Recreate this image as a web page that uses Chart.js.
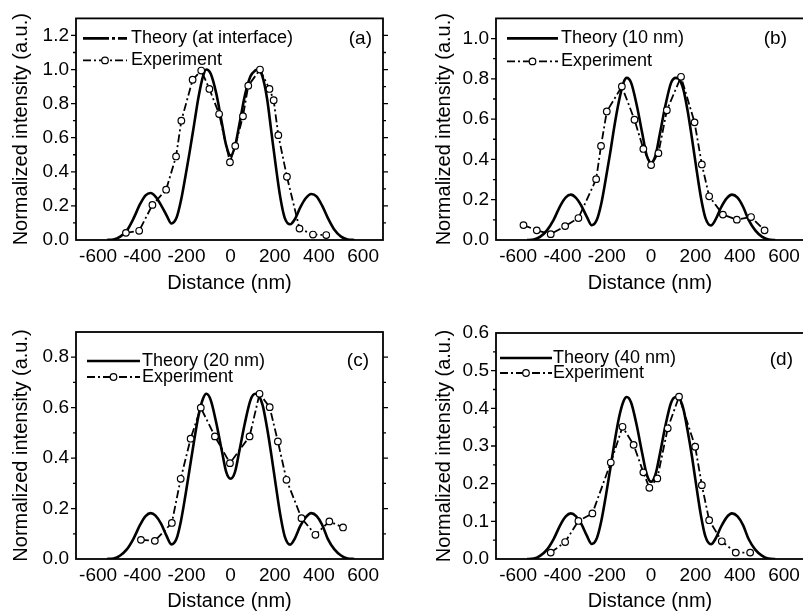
<!DOCTYPE html>
<html><head><meta charset="utf-8">
<script src="https://cdn.jsdelivr.net/npm/chart.js@4/dist/chart.umd.min.js"></script>
<style>
html,body{margin:0;padding:0;background:#fff;overflow:hidden;width:803px;height:616px;position:relative;}
canvas{position:absolute;}
</style></head><body>
<canvas id="ca" width="400" height="300" style="left:0px;top:0px"></canvas>
<canvas id="cb" width="410" height="300" style="left:400px;top:0px"></canvas>
<canvas id="cc" width="400" height="316" style="left:0px;top:300px"></canvas>
<canvas id="cd" width="410" height="316" style="left:400px;top:300px"></canvas>
<script>
// ---- data ----
const xTickLabels = [-600,-400,-200,0,200,400,600];
const theoryX = [-560,-530,-500,-470,-440,-410,-385,-362,-340,-315,-290,-268,-245,-225,-205,-185,-165,-145,-125,-110,-90,-65,-40,-20,0,20,40,65,90,112,125,145,165,185,205,225,245,270,290,315,340,365,390,415,440,470,500,530,560];
const theoryA = [0,0.003,0.02,0.055,0.125,0.21,0.262,0.276,0.255,0.205,0.145,0.097,0.13,0.23,0.37,0.52,0.68,0.84,0.96,1.0,0.975,0.86,0.69,0.555,0.495,0.55,0.68,0.85,0.96,0.995,1.0,0.955,0.83,0.63,0.43,0.25,0.13,0.092,0.12,0.19,0.245,0.27,0.255,0.2,0.13,0.06,0.02,0.003,0];
const theoryB = [0,0.002,0.017,0.048,0.10,0.17,0.212,0.225,0.21,0.17,0.115,0.073,0.1,0.18,0.3,0.43,0.57,0.69,0.78,0.805,0.78,0.67,0.53,0.42,0.385,0.42,0.53,0.67,0.78,0.805,0.8,0.75,0.64,0.5,0.35,0.21,0.11,0.072,0.1,0.16,0.205,0.225,0.21,0.165,0.1,0.048,0.017,0.002,0];
const theoryC = [0,0.002,0.014,0.038,0.08,0.135,0.17,0.182,0.172,0.14,0.092,0.058,0.08,0.15,0.25,0.36,0.47,0.57,0.635,0.655,0.63,0.54,0.43,0.345,0.318,0.345,0.43,0.54,0.63,0.655,0.65,0.61,0.52,0.41,0.29,0.175,0.09,0.057,0.08,0.13,0.165,0.182,0.17,0.135,0.08,0.038,0.014,0.002,0];
const theoryD = [0,0.001,0.009,0.025,0.053,0.09,0.113,0.121,0.114,0.093,0.062,0.04,0.055,0.1,0.165,0.237,0.31,0.375,0.418,0.43,0.415,0.355,0.28,0.225,0.205,0.225,0.28,0.355,0.415,0.43,0.428,0.4,0.34,0.27,0.19,0.115,0.06,0.039,0.053,0.085,0.11,0.121,0.113,0.09,0.053,0.025,0.009,0.001,0];

const expAx = [-474,-414,-354,-292,-247,-223,-172,-133,-96,-52,-3,21,56,80,133,176,195,216,255,312,373,433];
const expAy = [0.042,0.054,0.206,0.295,0.49,0.70,0.94,0.994,0.886,0.739,0.456,0.552,0.726,0.905,1.0,0.886,0.82,0.615,0.371,0.067,0.032,0.029];
const expBx = [-576,-516,-453,-388,-328,-248,-226,-200,-132,-75,-35,0,33,71,135,196,229,262,324,387,451,512];
const expBy = [0.074,0.048,0.029,0.069,0.109,0.302,0.467,0.638,0.762,0.597,0.452,0.372,0.431,0.644,0.81,0.584,0.375,0.217,0.126,0.101,0.114,0.048];
const expCx = [-406,-343,-266,-226,-181,-135,-71,-3,86,131,177,214,253,321,384,447,509];
const expCy = [0.076,0.072,0.143,0.318,0.477,0.60,0.486,0.38,0.486,0.655,0.602,0.466,0.314,0.162,0.096,0.149,0.125];
const expDx = [-453,-388,-328,-265,-182,-129,-79,-35,-8,28,75,126,199,229,262,319,382,447];
const expDy = [0.017,0.045,0.101,0.121,0.256,0.351,0.303,0.230,0.189,0.214,0.347,0.431,0.298,0.196,0.103,0.047,0.017,0.017];

const yTicksA = [0,0.2,0.4,0.6,0.8,1.0,1.2];
const yTicksB = [0,0.2,0.4,0.6,0.8,1.0];
const yTicksC = [0,0.2,0.4,0.6,0.8];
const yTicksD = [0,0.1,0.2,0.3,0.4,0.5,0.6];

const seriesNames = ['Theory (at interface)','Theory (10 nm)','Theory (20 nm)','Theory (40 nm)'];
const expName = 'Experiment';
const panelTags = ['(a)','(b)','(c)','(d)'];

// ---- rendering ----
const FONT = '"Liberation Sans", Arial, Helvetica, sans-serif';
Chart.defaults.color = '#000';
Chart.defaults.font.family = FONT;

const near = (v, list) => list.some(m => Math.abs(m - v) < 1e-6);
const isMult = (v, s) => Math.abs(v / s - Math.round(v / s)) < 1e-6;
const fmtX = v => String(v);

const framePlugin = {
  id: 'frame',
  afterDatasetsDraw(chart, args, o) {
    const {ctx, chartArea: a, scales: {x, y}} = chart;
    ctx.save();
    ctx.strokeStyle = '#000';
    ctx.lineWidth = 1.3;
    ctx.beginPath();
    x.ticks.forEach(t => {
      const v = t.value;
      if (!isMult(v, o.xMinor)) return;
      const px = x.getPixelForValue(v);
      if (px < a.left + 2 || px > a.right - 2) return;
      const L = isMult(v, o.xMajor) ? 5 : 3;
      ctx.moveTo(px, a.bottom); ctx.lineTo(px, a.bottom + L);
      ctx.moveTo(px, a.top); ctx.lineTo(px, a.top - L);
    });
    y.ticks.forEach(t => {
      const v = t.value;
      if (!isMult(v, o.yMinor)) return;
      const py = y.getPixelForValue(v);
      if (py < a.top + 2 || py > a.bottom - 2) return;
      const L = isMult(v, o.yMajor) ? 5 : 3;
      ctx.moveTo(a.left, py); ctx.lineTo(a.left - L, py);
      ctx.moveTo(a.right, py); ctx.lineTo(a.right + L, py);
    });
    ctx.stroke();
    ctx.lineWidth = 1.8;
    ctx.strokeRect(a.left, a.top, a.right - a.left, a.bottom - a.top);

    // x tick labels
    ctx.fillStyle = '#000';
    ctx.font = '19px ' + FONT;
    ctx.textAlign = 'center';
    ctx.textBaseline = 'middle';
    xTickLabels.forEach(v => {
      ctx.fillText(fmtX(v), x.getPixelForValue(v), a.bottom + o.xLabelOffset);
    });

    // legend
    const lg = o.legend;
    ctx.font = lg.size + 'px ' + FONT;
    ctx.textBaseline = 'middle';
    ctx.textAlign = 'left';
    chart.data.datasets.forEach((ds, i) => {
      const yy = a.top + lg.rows[i];
      const x0 = a.left + lg.x0, x1 = a.left + lg.x1;
      ctx.save();
      ctx.lineWidth = ds.borderWidth;
      ctx.setLineDash(ds.legendDash || ds.borderDash || []);
      ctx.beginPath(); ctx.moveTo(x0, yy); ctx.lineTo(x1, yy); ctx.stroke();
      ctx.setLineDash([]);
      if (ds.pointRadius > 0) {
        ctx.beginPath();
        ctx.arc((x0 + x1) / 2, yy, ds.pointRadius, 0, Math.PI * 2);
        ctx.fillStyle = ds.pointBackgroundColor; ctx.fill();
        ctx.lineWidth = ds.pointBorderWidth; ctx.stroke();
      }
      ctx.restore();
      ctx.fillStyle = '#000';
      ctx.fillText(ds.label, a.left + lg.tx, yy);
    });
    // panel tag
    ctx.textAlign = 'right';
    ctx.font = '19px ' + FONT;
    ctx.fillText(o.tag, a.right - o.tagPos[0], a.top + o.tagPos[1]);
    ctx.restore();
  }
};

const panels = [
  {id:'ca', theory:theoryA, ex:expAx, ey:expAy, name:seriesNames[0], tag:panelTags[0], yMax:1.3, yTicks:yTicksA, yMajor:0.2, yMinor:0.1,
   legendDash:[26,3,3,3], area:{left:76, top:13, right:383, bottom:240}, w:400, h:300, yTitlePad:9, xTitlePad:5,
   legend:{rows:[20,42], x0:7, x1:51, tx:55, size:18}, tagPos:[11,20]},
  {id:'cb', theory:theoryB, ex:expBx, ey:expBy, name:seriesNames[1], tag:panelTags[1], yMax:1.1, yTicks:yTicksB, yMajor:0.2, yMinor:0.1,
   legendDash:null, area:{left:96, top:12, right:404, bottom:240}, w:410, h:300, yTitlePad:32, xTitlePad:5,
   legend:{rows:[20,43], x0:11, x1:62, tx:65, size:18}, tagPos:[17,20]},
  {id:'cc', theory:theoryC, ex:expCx, ey:expCy, name:seriesNames[2], tag:panelTags[2], yMax:0.9, yTicks:yTicksC, yMajor:0.2, yMinor:0.1,
   legendDash:null, area:{left:76, top:32, right:383, bottom:259}, w:400, h:316, yTitlePad:9, xTitlePad:2.5,
   legend:{rows:[29,45], x0:11, x1:64, tx:66, size:18}, tagPos:[14,29]},
  {id:'cd', theory:theoryD, ex:expDx, ey:expDy, name:seriesNames[3], tag:panelTags[3], yMax:0.6, yTicks:yTicksD, yMajor:0.1, yMinor:0.05,
   legendDash:null, area:{left:96, top:33, right:404, bottom:259}, w:410, h:316, yTitlePad:32, xTitlePad:2.5,
   legend:{rows:[25,40], x0:4, x1:56, tx:57, size:18}, tagPos:[11,27]}
];

panels.forEach(p => {
  const ctx = document.getElementById(p.id);
  new Chart(ctx, {
    type: 'line',
    data: {
      datasets: [
        {label: p.name, data: theoryX.map((x, i) => ({x, y: p.theory[i]})),
         borderColor:'#000', borderWidth:2.6, pointRadius:0, cubicInterpolationMode:'monotone',
         fill:false, legendDash: p.legendDash, order:2},
        {label: expName, data: p.ex.map((x, i) => ({x, y: p.ey[i]})),
         borderColor:'#000', borderWidth:1.8, borderDash:[8,3,2,3], tension:0,
         pointRadius:3.3, pointHoverRadius:3.3, pointBackgroundColor:'#fff', pointBorderColor:'#000', pointBorderWidth:1.2,
         fill:false, order:1}
      ]
    },
    options: {
      responsive:false, animation:false, devicePixelRatio:1,
      events: [],
      layout: {padding: {left:0, top:p.area.top, right:p.w - p.area.right, bottom:0}},
      plugins: {
        legend:{display:false}, tooltip:{enabled:false},
        frame: {xMajor:200, xMinor:100, yMajor:p.yMajor, yMinor:p.yMinor, legend:p.legend, tag:p.tag, tagPos:p.tagPos, xLabelOffset:17}
      },
      scales: {
        x: {
          type:'linear', min:-700, max:690,
          grid:{display:false, drawTicks:false}, border:{display:false},
          ticks:{display:false, stepSize:100, includeBounds:false, autoSkip:false, maxRotation:0, minRotation:0},
          title:{display:true, text:'Distance (nm)', color:'#000', font:{size:20, family:FONT}, padding:{top:0, bottom:p.xTitlePad}},
          afterFit: s => { s.height = p.h - p.area.bottom; }
        },
        y: {
          type:'linear', min:0, max:p.yMax,
          grid:{display:false, drawTicks:false}, border:{display:false},
          ticks:{stepSize:p.yMinor, includeBounds:false, autoSkip:false, padding:7,
                 font:{size:19, family:FONT}, color:'#000',
                 callback: v => near(v, p.yTicks) ? v.toFixed(1) : ''},
          title:{display:true, text:'Normalized intensity (a.u.)', color:'#000', font:{size:20, family:FONT}, padding:{top:p.yTitlePad, bottom:0}},
          afterFit: s => { s.width = p.area.left; }
        }
      }
    },
    plugins: [framePlugin]
  });
});
</script>
</body></html>
